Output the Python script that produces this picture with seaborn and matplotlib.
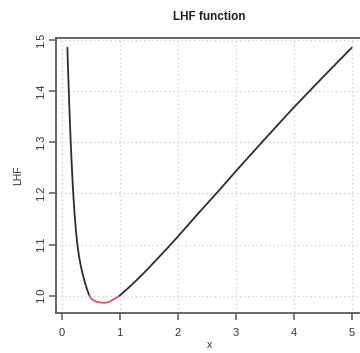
import pandas as pd
import matplotlib
matplotlib.use("Agg")
import matplotlib.pyplot as plt
import seaborn as sns

# -- curve values
lhf_x = [0.100, 0.115, 0.130, 0.145, 0.160, 0.175, 0.190, 0.205, 0.225, 0.250,
         0.274, 0.300, 0.330, 0.353, 0.380, 0.410, 0.440, 0.479,
         0.500, 0.550, 0.600, 0.650, 0.700, 0.750, 0.800, 0.850, 0.900, 0.950,
         1.00, 1.15, 1.30, 1.45, 1.60, 1.84, 2.00, 2.38, 2.70, 3.00, 3.50,
         4.00, 4.50, 5.00]
lhf_y = [1.485, 1.430, 1.380, 1.335, 1.293, 1.256, 1.222, 1.192, 1.158, 1.124,
         1.098, 1.077, 1.059, 1.047, 1.035, 1.023, 1.012, 1.000,
         0.995, 0.991, 0.988, 0.987, 0.986, 0.986, 0.987, 0.990, 0.993, 0.996,
         1.000, 1.015, 1.031, 1.048, 1.066, 1.095, 1.115, 1.164, 1.204, 1.243, 1.306,
         1.368, 1.427, 1.485]
# part of the curve drawn in red (values below 1)
red_from, red_to = 0.479, 1.00

x_ticks = [0, 1, 2, 3, 4, 5]
y_ticks = [1.0, 1.1, 1.2, 1.3, 1.4, 1.5]

df = pd.DataFrame({"x": lhf_x, "LHF": lhf_y})

sns.set_style("white")
plt.rcParams["font.family"] = ["Liberation Sans", "DejaVu Sans"]

fig = plt.figure(figsize=(3.6, 3.53), dpi=100)
ax = fig.add_axes([0.1556, 0.1133, 0.853, 0.7791])

grid_kw = dict(color="#d3d3d3", linestyle=(0, (1, 2)), linewidth=1.0, zorder=0)
for v in x_ticks:
    ax.axvline(v, **grid_kw)
for v in y_ticks:
    ax.axhline(v, **grid_kw)

left = df[df["x"] <= red_from]
mid = df[(df["x"] >= red_from) & (df["x"] <= red_to)]
right = df[df["x"] >= red_to]
line_kw = dict(x="x", y="LHF", ax=ax, sort=False, estimator=None, linewidth=1.3)
sns.lineplot(data=left, color="#2e2e2e", **line_kw)
sns.lineplot(data=mid, color="#DF536B", **line_kw)
sns.lineplot(data=right, color="#2e2e2e", **line_kw)

ax.set_xlim(-0.096, 5.196)
ax.set_ylim(0.966, 1.504)
ax.set_xticks(x_ticks)
ax.set_yticks(y_ticks)
ax.set_xticklabels([str(t) for t in x_ticks])
ax.set_yticklabels([f"{t:.1f}" for t in y_ticks], rotation=90, va="center")

for s in ax.spines.values():
    s.set_color("#5a5a5a")
    s.set_linewidth(1.3)
ax.tick_params(axis="both", which="both", direction="out", length=5, width=1.1,
               color="#5a5a5a", labelsize=8, labelcolor="#333333",
               bottom=True, left=True, top=False, right=False)
ax.tick_params(axis="x", pad=6)
ax.tick_params(axis="y", pad=2.5)

ax.set_title("LHF function", fontsize=8.5, fontweight="bold", color="#222222", pad=13)
ax.set_ylabel("LHF", fontsize=7.5, color="#333333", labelpad=9)
ax.set_xlabel("x", fontsize=7.5, color="#333333", labelpad=1.5)

fig.savefig("out.png", dpi=100)
